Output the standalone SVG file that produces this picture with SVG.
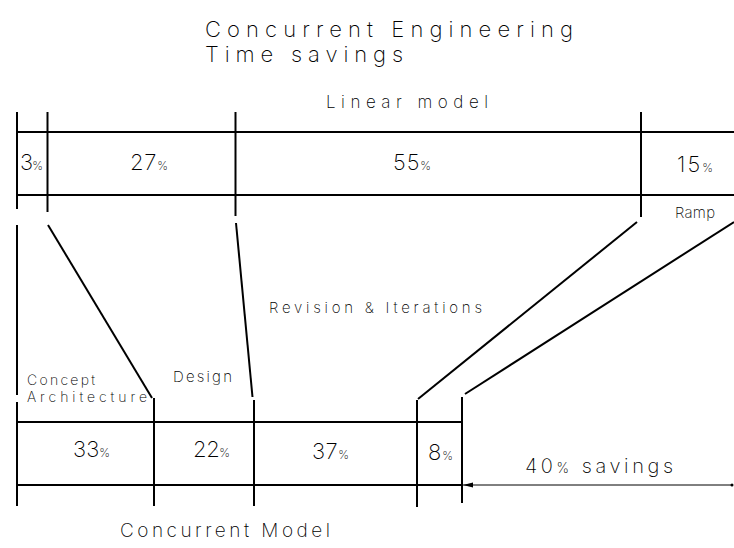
<svg xmlns="http://www.w3.org/2000/svg" width="734" height="548" viewBox="0 0 734 548">
  <style>
    .ln { stroke: #000; stroke-width: 2; fill: none; }
    .dim { stroke: #000; stroke-width: 1; fill: none; }
    text { font-family: Inter, "Liberation Sans", sans-serif; font-weight: 200; fill: #000; }
    .pct { font-size: 12px; }
    .num { font-size: 22px; }
    .lbl { font-size: 15px; }
    .sm { font-size: 14px; }
  </style>
  <defs>
    <marker id="arrowL" viewBox="0 0 10 6" refX="0" refY="3" markerWidth="10" markerHeight="6" markerUnits="userSpaceOnUse" orient="auto">
      <path d="M0,3 L10,0.5 L10,5.5 Z" fill="#000"/>
    </marker>
  </defs>

  <rect width="734" height="548" fill="#fff"/>

  <!-- Title -->
  <g id="title">
    <text x="205" y="37" font-size="22" textLength="368" lengthAdjust="spacing">Concurrent Engineering</text>
    <text x="205" y="62" font-size="22" textLength="198" lengthAdjust="spacing">Time savings</text>
  </g>

  <!-- Linear model bar -->
  <g id="linear-model">
    <text x="326" y="108" font-size="17" textLength="162" lengthAdjust="spacing">Linear model</text>
    <line class="ln" x1="17" y1="132" x2="734" y2="132"/>
    <line class="ln" x1="17" y1="195" x2="734" y2="195"/>
    <line class="ln" x1="17" y1="112" x2="17" y2="209"/>
    <line class="ln" x1="47.5" y1="112" x2="47.5" y2="212"/>
    <line class="ln" x1="235.5" y1="112" x2="235.5" y2="216"/>
    <line class="ln" x1="641" y1="112" x2="641" y2="217"/>
  </g>
  <g id="lin-concept"><text class="num" x="20" y="170" textLength="23" lengthAdjust="spacing">3<tspan class="pct">%</tspan></text></g>
  <g id="lin-design"><text class="num" x="130" y="170" textLength="38" lengthAdjust="spacing">27<tspan class="pct">%</tspan></text></g>
  <g id="lin-revision"><text class="num" x="393" y="170" textLength="38" lengthAdjust="spacing">55<tspan class="pct">%</tspan></text></g>
  <g id="lin-ramp">
    <text class="num" x="677" y="172" textLength="36" lengthAdjust="spacing">15<tspan class="pct">%</tspan></text>
    <text class="lbl" x="675" y="218" textLength="40" lengthAdjust="spacing">Ramp</text>
  </g>

  <!-- Connectors between the two models -->
  <g id="connectors">
    <line class="ln" x1="17" y1="225" x2="17" y2="395"/>
    <line class="ln" x1="48" y1="225" x2="152" y2="398"/>
    <line class="ln" x1="236" y1="223" x2="252.5" y2="397"/>
    <line class="ln" x1="637" y1="222" x2="418" y2="399"/>
    <line class="ln" x1="734" y1="222" x2="465" y2="394"/>
  </g>

  <!-- Phase labels -->
  <g id="phase-labels">
    <text class="sm" x="27" y="385" textLength="68" lengthAdjust="spacing">Concept</text>
    <text class="sm" x="27" y="402" textLength="120" lengthAdjust="spacing">Architecture</text>
    <text class="lbl" x="173" y="382" textLength="59" lengthAdjust="spacing">Design</text>
    <text class="lbl" x="269" y="313" textLength="213" lengthAdjust="spacing">Revision &amp; Iterations</text>
  </g>

  <!-- Concurrent model bar -->
  <g id="concurrent-model">
    <line class="ln" x1="17" y1="422" x2="462" y2="422"/>
    <line class="ln" x1="17" y1="485" x2="462" y2="485"/>
    <line class="ln" x1="17" y1="402" x2="17" y2="506"/>
    <line class="ln" x1="154" y1="398" x2="154" y2="506"/>
    <line class="ln" x1="254" y1="400" x2="254" y2="506"/>
    <line class="ln" x1="417" y1="400" x2="417" y2="507"/>
    <line class="ln" x1="462" y1="397" x2="462" y2="503"/>
    <text x="120" y="537" font-size="19" textLength="210" lengthAdjust="spacing">Concurrent Model</text>
  </g>
  <g id="con-concept"><text class="num" x="73" y="457" textLength="37" lengthAdjust="spacing">33<tspan class="pct">%</tspan></text></g>
  <g id="con-design"><text class="num" x="193" y="457" textLength="37" lengthAdjust="spacing">22<tspan class="pct">%</tspan></text></g>
  <g id="con-revision"><text class="num" x="312" y="459" textLength="37" lengthAdjust="spacing">37<tspan class="pct">%</tspan></text></g>
  <g id="con-ramp"><text class="num" x="428" y="460" textLength="25" lengthAdjust="spacing">8<tspan class="pct">%</tspan></text></g>

  <!-- Savings dimension -->
  <g id="savings">
    <line class="dim" x1="463" y1="485" x2="733" y2="485" marker-start="url(#arrowL)"/>
    <circle cx="732" cy="485" r="1.5" fill="#000"/>
    <text x="525" y="473" font-size="20" textLength="148" lengthAdjust="spacing">40<tspan font-size="14">%</tspan> savings</text>
  </g>
</svg>
